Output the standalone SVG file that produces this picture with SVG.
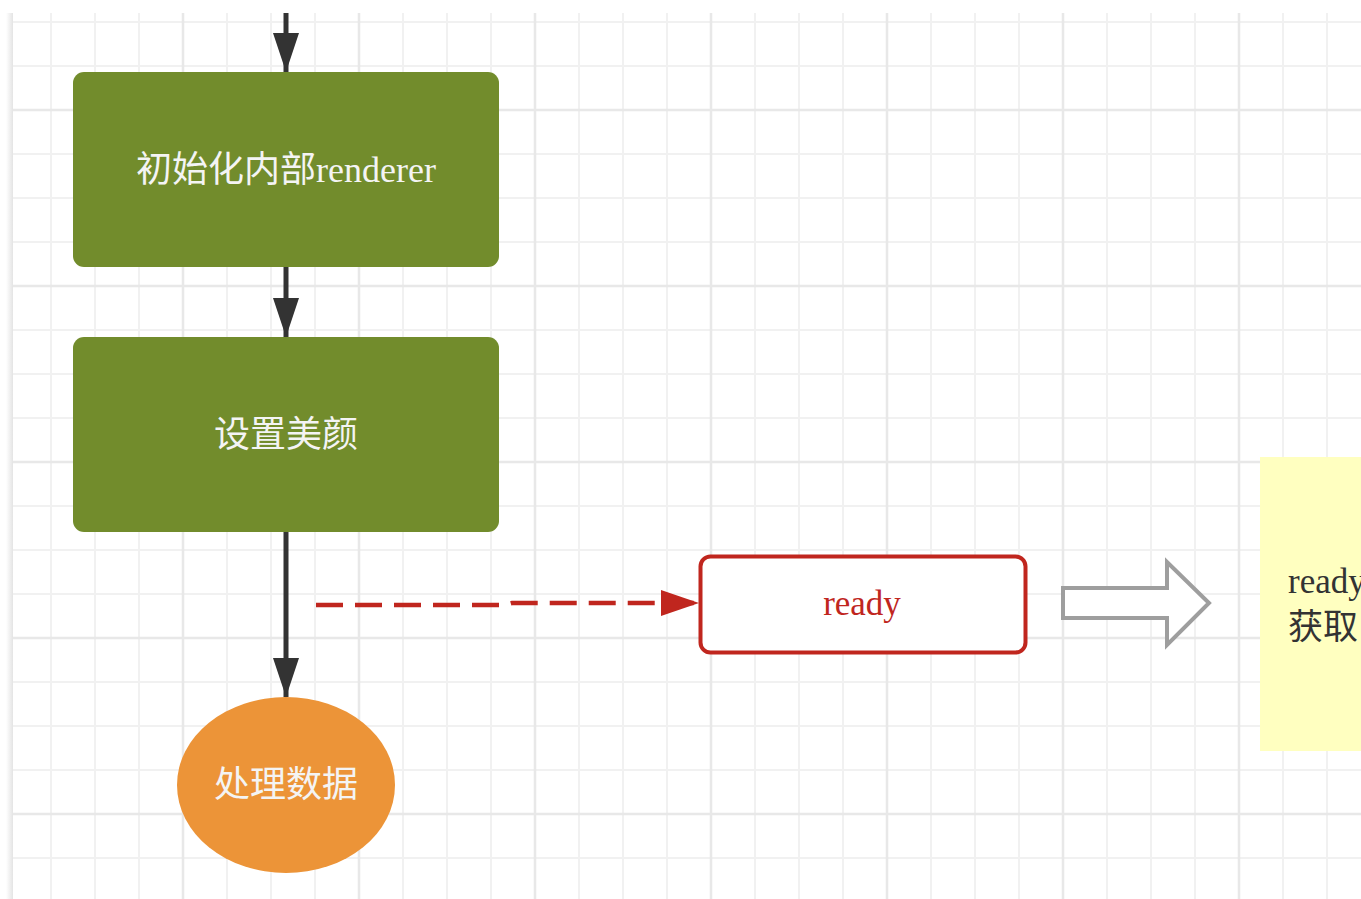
<svg xmlns="http://www.w3.org/2000/svg" width="1361" height="899" viewBox="0 0 1361 899">
<defs>
<pattern id="grid" x="-15" y="-88" width="176" height="176" patternUnits="userSpaceOnUse">
<path d="M66 0V176M110 0V176M154 0V176M0 66H176M0 110H176M0 154H176" stroke="#f1f1f1" stroke-width="2" fill="none"/>
<path d="M22 0V176M0 22H176" stroke="#e8e8e8" stroke-width="2.5" fill="none"/>
</pattern>
<linearGradient id="shadow" x1="0" y1="0" x2="1" y2="0">
<stop offset="0" stop-color="#ffffff"/>
<stop offset="1" stop-color="#e4e4e4"/>
</linearGradient>
<marker id="ah" markerWidth="39" markerHeight="26" refX="39" refY="13" orient="auto" markerUnits="userSpaceOnUse">
<path d="M0 0L39 13L0 26Z" fill="#333333"/>
</marker>
<marker id="ahr" markerWidth="38" markerHeight="26" refX="38" refY="13" orient="auto" markerUnits="userSpaceOnUse">
<path d="M0 0L38 13L0 26Z" fill="#c0261e"/>
</marker>
</defs>
<style>
.flow{stroke:#333333;stroke-width:5;fill:none;marker-end:url(#ah)}
.green{fill:#728c2c}
.wt{fill:#f4f4f4;font-family:"Liberation Serif","Noto Sans CJK SC",serif;font-size:36px;text-anchor:middle;dominant-baseline:central}
</style>
<rect x="0" y="0" width="1361" height="899" fill="#ffffff"/>
<rect x="13" y="13" width="1348" height="886" fill="url(#grid)"/>
<rect x="6" y="13" width="7" height="886" fill="url(#shadow)"/>
<g id="connectors">
<path class="flow" d="M286 13V72"/>
<path class="flow" d="M286 267V337"/>
<path class="flow" d="M286 532V697"/>
<path d="M316 605H505L512 603H699" stroke="#c0261e" stroke-width="4.5" fill="none" stroke-dasharray="27 12" marker-end="url(#ahr)"/>
</g>
<g id="node-init">
<rect class="green" x="73" y="72" width="426" height="195" rx="11"/>
<text class="wt" x="286" y="170">初始化内部renderer</text>
</g>
<g id="node-beauty">
<rect class="green" x="73" y="337" width="426" height="195" rx="11"/>
<text class="wt" x="286" y="435">设置美颜</text>
</g>
<g id="node-process">
<ellipse cx="286" cy="785" rx="109" ry="88" fill="#ec9438"/>
<text class="wt" x="286" y="785">处理数据</text>
</g>
<g id="node-ready">
<rect x="700.5" y="556.5" width="325" height="96" rx="10" fill="#ffffff" stroke="#c0261e" stroke-width="4"/>
<text x="862" y="603" fill="#c0261e" font-family="Liberation Serif, Noto Sans CJK SC, serif" font-size="35" text-anchor="middle" dominant-baseline="central">ready</text>
</g>
<g id="hollow-arrow">
<path d="M1063 588H1167V562L1209 603L1167 645V618H1063Z" fill="#ffffff" stroke="#9e9e9e" stroke-width="4" stroke-linejoin="miter"/>
</g>
<g id="node-note">
<rect x="1260" y="457" width="101" height="294" fill="#ffffc0"/>
<text x="1288" y="593" fill="#333333" font-family="Liberation Serif, Noto Sans CJK SC, serif" font-size="35">ready</text>
<text x="1288" y="639" fill="#333333" font-family="Liberation Serif, Noto Sans CJK SC, serif" font-size="35">获取</text>
</g>
</svg>
